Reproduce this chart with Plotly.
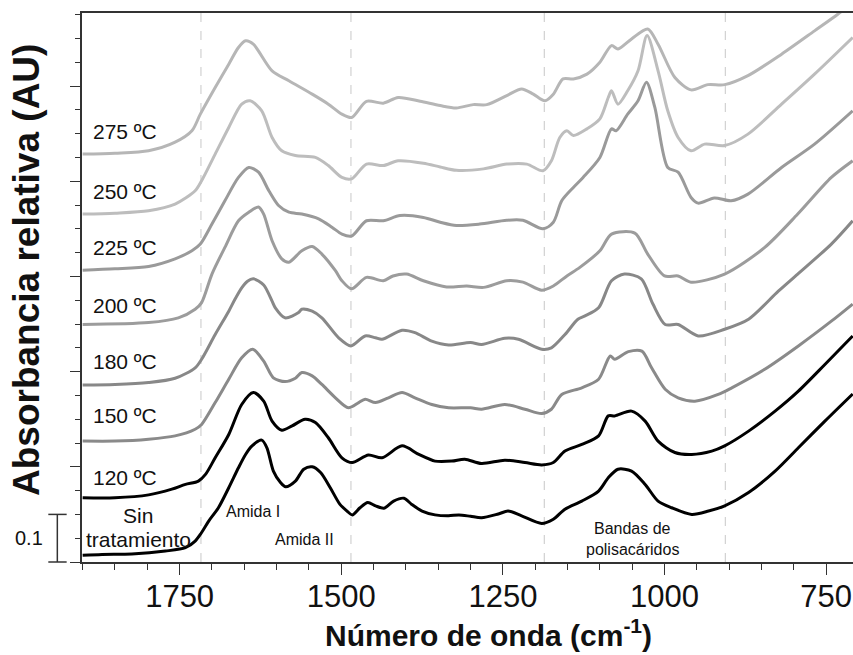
import plotly.graph_objects as go

# ---------------- data (wavenumber in cm-1, relative absorbance, offset spectra) ----------------
wn_sin = [1900,1870,1824,1772,1741,1726,1718,1705,1690,1674,1659,1648,1638,1623,1615,1605,1594,1586,1571,1558,
          1545,1532,1517,1502,1491,1483,1471,1459,1447,1434,1419,1403,1391,1375,1355,1334,1318,1300,1283,1257,
          1242,1221,1190,1172,1154,1128,1102,1087,1072,1051,1030,1010,989,958,932,907,870,829,793,752,709]
ab_sin = [0.014,0.016,0.017,0.023,0.030,0.044,0.058,0.086,0.114,0.156,0.198,0.226,0.244,0.256,0.240,0.191,0.167,0.158,0.170,0.195,
          0.200,0.188,0.156,0.121,0.107,0.099,0.114,0.125,0.118,0.113,0.128,0.134,0.121,0.107,0.099,0.097,0.099,0.096,0.093,0.101,
          0.107,0.097,0.081,0.090,0.111,0.128,0.149,0.177,0.195,0.191,0.163,0.128,0.114,0.100,0.107,0.118,0.146,0.191,0.240,0.296,0.353]

wn_120 = [1900,1850,1798,1762,1741,1721,1710,1695,1674,1654,1636,1620,1607,1592,1576,1556,1540,1520,1499,1483,
          1458,1437,1406,1380,1355,1329,1309,1283,1247,1216,1190,1172,1154,1128,1102,1087,1077,1051,1030,1010,
          984,958,927,907,870,829,793,752,709]
ab_120 = [0.135,0.135,0.141,0.153,0.163,0.170,0.184,0.219,0.268,0.331,0.356,0.338,0.296,0.277,0.286,0.300,0.293,0.261,0.219,0.209,
          0.225,0.219,0.244,0.226,0.212,0.212,0.216,0.207,0.214,0.209,0.204,0.209,0.233,0.247,0.265,0.307,0.307,0.317,0.296,0.254,
          0.230,0.226,0.233,0.244,0.275,0.317,0.359,0.415,0.475]

wn_150 = [1900,1850,1798,1757,1726,1716,1695,1674,1654,1637,1620,1605,1587,1571,1561,1545,1530,1509,1489,1473,
          1463,1447,1427,1406,1386,1360,1334,1300,1283,1247,1216,1190,1175,1159,1128,1102,1084,1077,1056,1035,
          1020,999,979,953,917,896,845,793,742,709]
ab_150 = [0.254,0.254,0.258,0.265,0.279,0.289,0.335,0.384,0.429,0.447,0.422,0.387,0.379,0.386,0.398,0.391,0.373,0.345,0.324,0.335,
          0.342,0.335,0.345,0.356,0.345,0.331,0.324,0.324,0.321,0.331,0.321,0.312,0.321,0.352,0.366,0.384,0.433,0.426,0.442,0.443,
          0.408,0.363,0.345,0.338,0.352,0.366,0.405,0.454,0.506,0.542]

wn_180 = [1900,1850,1798,1757,1726,1716,1695,1674,1664,1654,1645,1636,1620,1607,1602,1587,1566,1561,1545,1530,1504,
          1485,1463,1447,1437,1406,1386,1360,1334,1300,1283,1247,1226,1190,1175,1154,1134,1123,1102,1082,1062,
          1036,1018,999,979,948,907,870,824,794,742,709]
ab_180 = [0.372,0.373,0.377,0.386,0.408,0.426,0.478,0.527,0.553,0.576,0.590,0.595,0.582,0.548,0.534,0.513,0.524,0.531,0.527,0.513,0.471,
          0.454,0.475,0.471,0.468,0.487,0.482,0.464,0.456,0.461,0.457,0.470,0.468,0.447,0.450,0.478,0.510,0.517,0.534,0.591,0.605,
          0.595,0.542,0.499,0.499,0.475,0.489,0.510,0.569,0.605,0.668,0.717]

wn_200 = [1900,1798,1752,1726,1716,1700,1680,1659,1643,1628,1620,1607,1592,1581,1561,1545,1530,1509,1499,1484,
          1461,1435,1420,1399,1373,1337,1306,1280,1244,1219,1190,1172,1151,1131,1100,1082,1046,1026,1000,979,
          959,907,845,794,742,709]
ab_200 = [0.499,0.503,0.513,0.531,0.545,0.605,0.661,0.717,0.735,0.746,0.731,0.675,0.637,0.630,0.654,0.663,0.647,0.612,0.591,0.574,
          0.598,0.591,0.601,0.605,0.591,0.578,0.580,0.577,0.591,0.588,0.571,0.580,0.601,0.619,0.654,0.689,0.691,0.647,0.601,0.601,
          0.588,0.605,0.661,0.731,0.808,0.843]

wn_225 = [1900,1850,1798,1757,1731,1718,1700,1680,1659,1643,1628,1612,1597,1581,1561,1535,1514,1499,1484,1461,
          1435,1409,1373,1347,1322,1286,1244,1219,1188,1172,1159,1141,1126,1100,1082,1075,1057,1041,1028,1015,
          995,979,959,948,923,897,871,819,768,709]
ab_225 = [0.613,0.616,0.621,0.637,0.654,0.668,0.710,0.759,0.808,0.829,0.819,0.780,0.749,0.735,0.731,0.721,0.703,0.689,0.685,0.717,
          0.717,0.728,0.724,0.714,0.707,0.710,0.718,0.718,0.700,0.714,0.759,0.787,0.808,0.850,0.910,0.906,0.941,0.969,1.008,0.955,
          0.829,0.819,0.766,0.754,0.765,0.759,0.773,0.829,0.878,0.948]

wn_250 = [1900,1850,1798,1757,1726,1716,1695,1674,1654,1641,1623,1607,1592,1571,1540,1520,1499,1484,1461,1435,
          1412,1373,1347,1322,1280,1244,1213,1188,1175,1162,1151,1141,1120,1100,1087,1082,1072,1057,1041,1027,
          1010,995,979,959,938,907,871,819,768,709]
ab_250 = [0.731,0.733,0.738,0.752,0.780,0.801,0.857,0.913,0.962,0.969,0.948,0.892,0.864,0.854,0.850,0.833,0.808,0.805,0.836,0.833,
          0.843,0.838,0.830,0.823,0.826,0.836,0.836,0.822,0.843,0.892,0.906,0.896,0.910,0.931,0.976,0.990,0.962,0.990,1.032,1.106,
          1.032,0.948,0.892,0.864,0.878,0.875,0.899,0.962,1.025,1.102]

wn_275 = [1900,1850,1798,1757,1731,1718,1695,1674,1659,1648,1636,1607,1581,1545,1520,1499,1484,1461,1435,1412,
          1378,1347,1322,1296,1275,1244,1221,1203,1185,1172,1157,1141,1120,1100,1082,1072,1051,1026,1010,984,
          959,933,907,871,819,768,732,709]
ab_275 = [0.857,0.859,0.864,0.882,0.906,0.941,0.997,1.046,1.081,1.095,1.088,1.032,1.011,0.983,0.962,0.941,0.934,0.968,0.964,0.976,
          0.968,0.959,0.954,0.961,0.961,0.980,0.994,0.983,0.969,0.983,1.015,1.015,1.025,1.050,1.085,1.078,1.099,1.120,1.088,1.018,
          0.992,1.003,1.003,1.022,1.067,1.116,1.151,1.175]

series_names = ["Sin tratamiento", "120 ºC", "150 ºC", "180 ºC", "200 ºC", "225 ºC", "250 ºC", "275 ºC"]
series_x = [wn_sin, wn_120, wn_150, wn_180, wn_200, wn_225, wn_250, wn_275]
series_y = [ab_sin, ab_120, ab_150, ab_180, ab_200, ab_225, ab_250, ab_275]
series_colors = ["#000000", "#000000", "#8a8a8a", "#888888", "#9c9c9c", "#9a9a9a", "#bdbdbd", "#b6b6b6"]

# temperature label positions (wavenumber, absorbance)
temp_labels = ["275 ºC", "250 ºC", "225 ºC", "200 ºC", "180 ºC", "150 ºC", "120 ºC"]
temp_label_y = [0.905, 0.779, 0.660, 0.538, 0.422, 0.307, 0.177]
temp_label_x = 1887

band_lines = [1717, 1485, 1186, 906]
x_range = [1901, 708.5]
y_range = [0, 1.1535]
scale_bar = 0.1

FONT = "Arial, Liberation Sans, Helvetica, sans-serif"
NARROW = "Liberation Sans Narrow, Arial Narrow, Arial, sans-serif"

fig = go.Figure()
for name, xs, ys, col in zip(series_names, series_x, series_y, series_colors):
    fig.add_trace(go.Scatter(x=xs, y=ys, mode="lines", name=name,
                             line=dict(color=col, width=3, shape="spline", smoothing=0.8),
                             showlegend=False, hoverinfo="skip"))

shapes = []
for b in band_lines:
    shapes.append(dict(type="line", xref="x", yref="paper", x0=b, x1=b, y0=0, y1=1,
                       line=dict(color="#c8c8c8", width=1, dash="dash"), layer="below"))

# scale bar (0.1 AU) drawn to the left of the axis
bar_top = scale_bar / (y_range[1] - y_range[0])
bx, bx0, bx1 = -0.032, -0.0437, -0.0199
shapes.append(dict(type="line", xref="paper", yref="paper", x0=bx, x1=bx, y0=0, y1=bar_top,
                   line=dict(color="#333333", width=1.5)))
shapes.append(dict(type="line", xref="paper", yref="paper", x0=bx0, x1=bx1, y0=0, y1=0,
                   line=dict(color="#333333", width=1.5)))
shapes.append(dict(type="line", xref="paper", yref="paper", x0=bx0, x1=bx1, y0=bar_top, y1=bar_top,
                   line=dict(color="#333333", width=1.5)))

ann = []
for t, yv in zip(temp_labels, temp_label_y):
    ann.append(dict(x=temp_label_x, y=yv, xref="x", yref="y", text=t, showarrow=False,
                    xanchor="left", yanchor="middle", font=dict(family=FONT, size=21, color="#111")))
ann.append(dict(x=1814, y=0.097, xref="x", yref="y", text="Sin", showarrow=False,
                xanchor="center", yanchor="middle", font=dict(family=FONT, size=21, color="#111")))
ann.append(dict(x=1814, y=0.048, xref="x", yref="y", text="tratamiento", showarrow=False,
                xanchor="center", yanchor="middle", font=dict(family=FONT, size=21, color="#111")))
ann.append(dict(x=1636, y=0.107, xref="x", yref="y", text="Amida I", showarrow=False,
                xanchor="center", yanchor="middle", font=dict(family=FONT, size=16, color="#111")))
ann.append(dict(x=1557, y=0.048, xref="x", yref="y", text="Amida II", showarrow=False,
                xanchor="center", yanchor="middle", font=dict(family=FONT, size=16, color="#111")))
ann.append(dict(x=1049, y=0.071, xref="x", yref="y", text="Bandas de", showarrow=False,
                xanchor="center", yanchor="middle", font=dict(family=FONT, size=16, color="#111")))
ann.append(dict(x=1049, y=0.027, xref="x", yref="y", text="polisacáridos", showarrow=False,
                xanchor="center", yanchor="middle", font=dict(family=FONT, size=16, color="#111")))
ann.append(dict(x=-0.0687, y=bar_top / 2, xref="paper", yref="paper", text="0.1", showarrow=False,
                xanchor="center", yanchor="middle", font=dict(family=FONT, size=20, color="#111")))
ann.append(dict(x=-0.0713, y=0.532, xref="paper", yref="paper", text="<b>Absorbancia relativa (AU)</b>",
                showarrow=False, textangle=-90, xanchor="center", yanchor="middle",
                font=dict(family=FONT, size=37, color="#111")))
ann.append(dict(x=0.527, y=-0.13, xref="paper", yref="paper",
                text="<b>Número de onda (cm<sup>-1</sup>)</b>", showarrow=False,
                xanchor="center", yanchor="middle", font=dict(family=FONT, size=30, color="#111")))

fig.update_layout(
    width=853, height=655, autosize=False,
    margin=dict(l=82, r=0, t=13, b=93),
    paper_bgcolor="white", plot_bgcolor="white",
    shapes=shapes, annotations=ann,
    xaxis=dict(range=x_range, showgrid=False, zeroline=False, showline=True, linecolor="#333333",
               linewidth=1.5, mirror=True, ticks="outside", ticklen=11, tickwidth=1.2, tickcolor="#333333",
               tickvals=[1750, 1500, 1250, 1000, 750], ticktext=["1750", "1500", "1250", "1000", "750"],
               tickfont=dict(family=NARROW, size=31, color="#111"), ticklabelstandoff=-5,
               minor=dict(dtick=50, tick0=0, ticks="outside", ticklen=6, tickcolor="#333333", tickwidth=1.2)),
    yaxis=dict(range=y_range, showgrid=False, zeroline=False, showline=True, linecolor="#333333",
               linewidth=1.5, ticks="outside", ticklen=10, tickwidth=1.2, tickcolor="#333333",
               tick0=0, dtick=0.2, showticklabels=False,
               minor=dict(dtick=0.05, tick0=0, ticks="outside", ticklen=5, tickcolor="#333333", tickwidth=1.2)),
)

fig.write_html("out.html")
